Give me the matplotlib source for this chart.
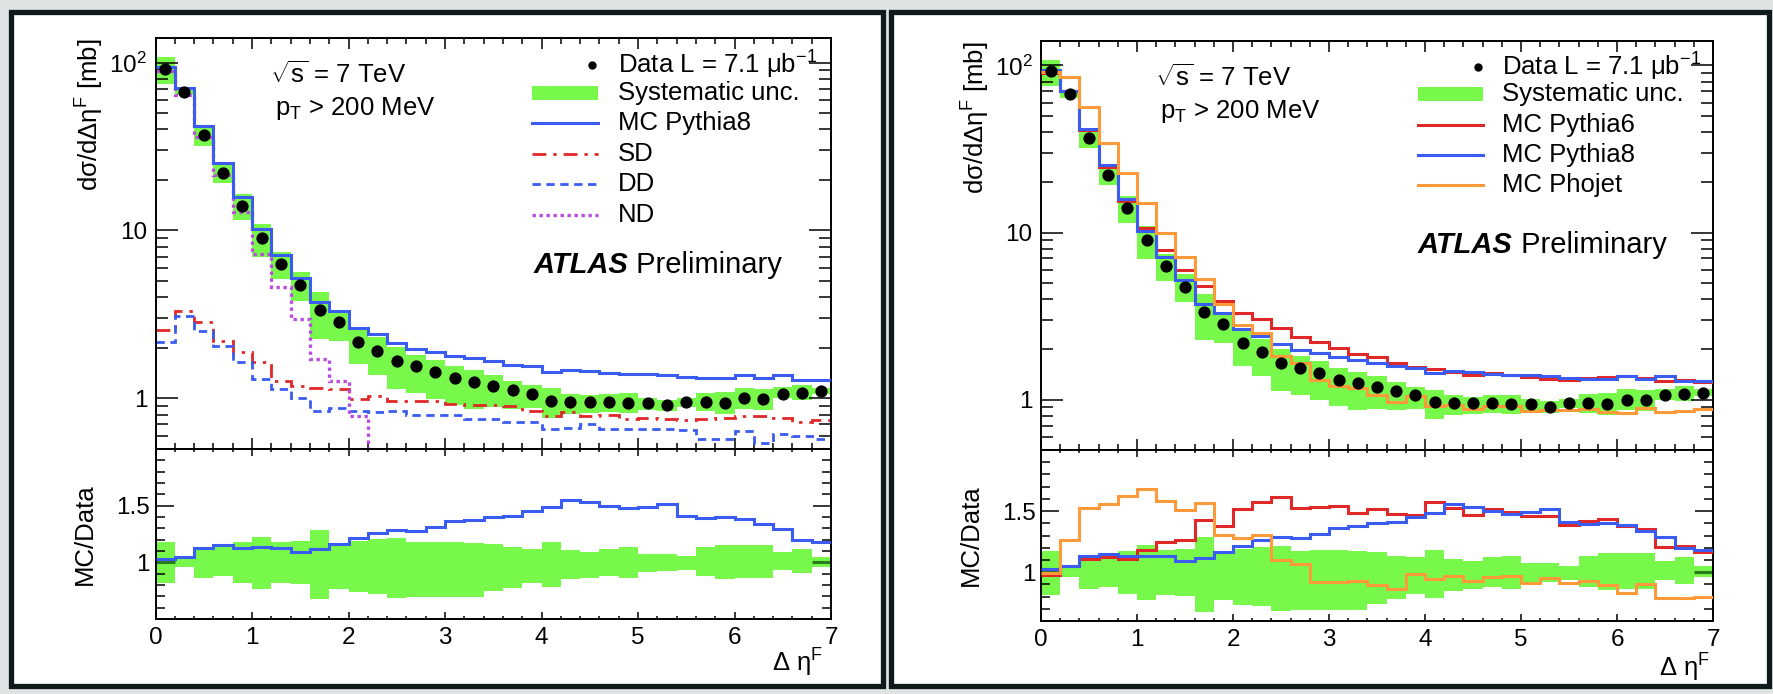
import numpy as np
import matplotlib
matplotlib.use("Agg")
import matplotlib.pyplot as plt
from matplotlib.patches import Rectangle
from matplotlib.ticker import FixedLocator, MultipleLocator, LogLocator, NullFormatter

plt.rcParams['font.family'] = ['Liberation Sans', 'DejaVu Sans']
plt.rcParams['mathtext.fontset'] = 'custom'
plt.rcParams['mathtext.rm'] = 'Liberation Sans'
plt.rcParams['mathtext.it'] = 'Liberation Sans:italic'
plt.rcParams['mathtext.bf'] = 'Liberation Sans:bold'

# --- data: 35 bins of width 0.2 in delta eta_F ---
edges = np.linspace(0, 7, 36)
data = [92, 67, 37, 22, 14, 9.0, 6.3, 4.75, 3.35, 2.85, 2.17, 1.92, 1.66, 1.55, 1.44,
        1.32, 1.26, 1.19, 1.12, 1.07, 0.97, 0.955, 0.955, 0.95, 0.945, 0.94, 0.91, 0.955,
        0.955, 0.945, 1.0, 0.99, 1.07, 1.08, 1.10]
# systematic band, relative to data (upper / lower edge)
sys_hi = [1.177, 1.054, 1.129, 1.134, 1.177, 1.22, 1.183, 1.191, 1.286, 1.163, 1.191, 1.206,
          1.214, 1.177, 1.18, 1.18, 1.17, 1.163, 1.134, 1.12, 1.183, 1.111, 1.091, 1.12, 1.134,
          1.071, 1.077, 1.054, 1.134, 1.157, 1.157, 1.157, 1.089, 1.12, 1.049]
sys_lo = [0.814, 0.957, 0.863, 0.877, 0.82, 0.769, 0.814, 0.806, 0.677, 0.769, 0.734, 0.72,
          0.683, 0.691, 0.69, 0.69, 0.69, 0.743, 0.777, 0.82, 0.786, 0.849, 0.863, 0.877, 0.863,
          0.911, 0.92, 0.934, 0.877, 0.857, 0.863, 0.863, 0.934, 0.906, 0.963]

pythia8 = [94.4, 70.3, 41.8, 25.3, 15.8, 10.2, 7.11, 5.18, 3.73, 3.31, 2.63, 2.42, 2.14, 1.98,
           1.89, 1.80, 1.735, 1.666, 1.58, 1.55, 1.44, 1.484, 1.465, 1.425, 1.396, 1.40, 1.378,
           1.348, 1.328, 1.323, 1.386, 1.327, 1.381, 1.296, 1.295]
pythia6 = [90.2, 70.4, 41.1, 24.8, 15.5, 10.6, 7.86, 6.01, 4.79, 3.92, 3.30, 3.02, 2.68, 2.37,
           2.21, 2.04, 1.87, 1.81, 1.65, 1.57, 1.53, 1.46, 1.40, 1.44, 1.41, 1.37, 1.33, 1.32,
           1.355, 1.36, 1.38, 1.34, 1.29, 1.31, 1.28]
phojet = [91.1, 84.8, 56.5, 34.2, 22.7, 15.1, 9.95, 7.15, 5.25, 3.72, 2.78, 2.51, 1.83, 1.65,
          1.32, 1.21, 1.17, 1.065, 0.963, 1.056, 0.913, 0.924, 0.885, 0.912, 0.919, 0.859, 0.864,
          0.868, 0.885, 0.846, 0.828, 0.891, 0.843, 0.851, 0.878]

# Pythia8 process components
sd = [2.56, 3.3, 2.85, 2.2, 1.88, 1.64, 1.27, 1.19, 1.15, 1.14, 0.99, 1.03, 0.97, 0.96, 0.96,
      0.925, 0.92, 0.91, 0.9, 0.845, 0.79, 0.83, 0.79, 0.8, 0.75, 0.76, 0.75, 0.745, 0.755,
      0.76, 0.79, 0.79, 0.77, 0.72, 0.745]
dd = [2.16, 3.1, 2.53, 2.06, 1.64, 1.30, 1.14, 1.01, 0.84, 0.875, 0.845, 0.83, 0.845, 0.80,
      0.80, 0.80, 0.75, 0.75, 0.72, 0.72, 0.66, 0.665, 0.70, 0.655, 0.655, 0.655, 0.655, 0.645,
      0.575, 0.575, 0.64, 0.545, 0.61, 0.595, 0.57]
nd = [89, 64, 36, 21.5, 12.8, 7.2, 4.6, 2.97, 1.72, 1.27, 0.79, 0.3]

data = np.array(data)
sys_hi = np.array(sys_hi)
sys_lo = np.array(sys_lo)
centers = 0.5 * (edges[:-1] + edges[1:])

GREEN = '#78f84a'
BLUE = '#3a5cf0'
RED = '#e02828'
ORANGE = '#ff9a3a'
VIOLET = '#b94be0'

W, H = 1773, 694
fig = plt.figure(figsize=(W / 100, H / 100), dpi=100, facecolor='#dfe3e3')

# outer boxes around the two plots
for x0, x1 in [(10.5, 882.5), (890.5, 1768.5)]:
    fig.add_artist(Rectangle((x0 / W, 1 - 686 / H), (x1 - x0) / W, (686 - 11.5) / H,
                             transform=fig.transFigure, facecolor='white',
                             edgecolor='#0f1b1b', lw=3.8, zorder=-1))


def px_axes(left, right, top, bottom):
    return fig.add_axes([left / W, 1 - bottom / H, (right - left) / W, (bottom - top) / H])


def style(ax, xl, yl):
    ax.tick_params(which='both', direction='in', top=True, right=True, width=1.1,
                   labelsize=17.5)
    ax.tick_params(which='major', axis='x', length=xl[0])
    ax.tick_params(which='minor', axis='x', length=xl[1])
    ax.tick_params(which='major', axis='y', length=yl[0])
    ax.tick_params(which='minor', axis='y', length=yl[1])
    ax.xaxis.set_major_locator(MultipleLocator(1))
    ax.xaxis.set_minor_locator(MultipleLocator(0.2))
    for s in ax.spines.values():
        s.set_linewidth(1.4)
    ax.set_xlim(0, 7)


def main_panel(ax):
    ax.set_yscale('log')
    ax.set_ylim(0.5, 140)
    style(ax, (8, 4), (16, 8.5))
    ax.yaxis.set_major_locator(FixedLocator([1, 10, 100]))
    ax.yaxis.set_major_formatter(plt.FixedFormatter(['1', '10', '$10^{2}$']))
    ax.yaxis.set_minor_locator(LogLocator(base=10, subs=np.arange(2, 10)))
    ax.yaxis.set_minor_formatter(NullFormatter())
    ax.tick_params(axis='x', labelbottom=False)
    ax.tick_params(axis='y', pad=6)
    ax.bar(centers, data * (sys_hi - sys_lo), bottom=data * sys_lo, width=0.2,
           color=GREEN, lw=0, zorder=1)
    ax.text(-0.097, 1.0, r'dσ/dΔη$^{\mathrm{F}}$ [mb]', transform=ax.transAxes, rotation=90,
            ha='center', va='top', fontsize=18.5)
    ax.text(0.17, 0.91, r'$\sqrt{\mathrm{s}}$ = 7 TeV', transform=ax.transAxes,
            va='center', fontsize=18.5)
    ax.text(0.177, 0.828, r'p$_{\mathrm{T}}$ > 200 MeV', transform=ax.transAxes,
            va='center', fontsize=18.5)


def ratio_panel(ax, ylo):
    ax.set_ylim(ylo, 2.0)
    style(ax, (5, 2.5), (13, 6.5))
    ax.yaxis.set_major_locator(FixedLocator([1, 1.5]))
    ax.yaxis.set_major_formatter(plt.FixedFormatter(['1', '1.5']))
    ax.yaxis.set_minor_locator(MultipleLocator(0.1))
    ax.tick_params(axis='y', pad=4)
    ax.tick_params(axis='x', pad=6)
    ax.bar(centers, sys_hi - sys_lo, bottom=sys_lo, width=0.2, color=GREEN, lw=0, zorder=1)
    ax.hlines([1, 1], [0, 6.8], [0.2, 7.0], color='#2a7a22', lw=2.2, zorder=2)
    ax.text(-0.105, 0.5, 'MC/Data', transform=ax.transAxes, rotation=90,
            ha='center', va='center', fontsize=18.5)


def legend(ax, rows, x0, x1, xm, xt, ys):
    for (kind, label, kw), y in zip(rows, ys):
        if kind == 'data':
            ax.plot([xm], [y], 'o', color='black', ms=5, transform=ax.transAxes, clip_on=False)
        elif kind == 'band':
            ax.add_patch(Rectangle((x0, y - 0.017), x1 - x0, 0.034, transform=ax.transAxes,
                                   facecolor=GREEN, lw=0))
        else:
            ax.plot([x0, x1], [y, y], transform=ax.transAxes, **kw)
        ax.text(xt, y, label, transform=ax.transAxes, va='center', fontsize=18.5)


def atlas(ax, x, y):
    t = ax.text(x, y, 'ATLAS', transform=ax.transAxes, va='center', fontsize=21,
                fontweight='bold', fontstyle='italic')
    ax.annotate(' Preliminary', xycoords=t, xy=(1, 0.5), va='center', fontsize=21)


# ---------- left: Pythia8 with SD / DD / ND components ----------
axL = px_axes(155.5, 831, 38, 449)
rL = px_axes(155.5, 831, 449, 619)
main_panel(axL)
ratio_panel(rL, 0.5)

sd_style = dict(color=RED, lw=2.0, ls=(0, (5, 2.5, 1.2, 2.5)))
dd_style = dict(color=BLUE, lw=2.0, ls=(0, (3, 2)))
nd_style = dict(color=VIOLET, lw=2.4, ls=(0, (1, 1.1)))
p8_style = dict(color=BLUE, lw=2.2)

axL.stairs(sd, edges, baseline=None, zorder=2, **sd_style)
axL.stairs(dd, edges, baseline=None, zorder=2, **dd_style)
axL.stairs(nd, edges[:len(nd) + 1], baseline=None, zorder=2, **nd_style)
axL.stairs(pythia8, edges, baseline=None, zorder=3, **p8_style)
axL.plot(centers, data, 'o', color='black', ms=7.8, zorder=5)
rL.stairs(np.array(pythia8) / data, edges, baseline=None, zorder=3, **p8_style)

legend(axL, [('data', 'Data L = 7.1 μb$^{-1}$', None),
             ('band', 'Systematic unc.', None),
             ('line', 'MC Pythia8', p8_style),
             ('line', 'SD', sd_style),
             ('line', 'DD', dd_style),
             ('line', 'ND', nd_style)],
       0.557, 0.655, 0.646, 0.685, [0.934, 0.866, 0.793, 0.718, 0.645, 0.569])
atlas(axL, 0.559, 0.448)
rL.text(0.988, -0.26, r'Δ η$^{\mathrm{F}}$', transform=rL.transAxes, ha='right',
        va='center', fontsize=18.5)

# ---------- right: generator comparison ----------
axR = px_axes(1041, 1713, 41, 450)
rR = px_axes(1041, 1713, 450, 621)
main_panel(axR)
ratio_panel(rR, 0.6)

p6_style = dict(color=RED, lw=2.2)
pj_style = dict(color=ORANGE, lw=2.2)
for vals, st, z in [(pythia6, p6_style, 3), (pythia8, p8_style, 3), (phojet, pj_style, 4)]:
    axR.stairs(vals, edges, baseline=None, zorder=z, **st)
    rR.stairs(np.array(vals) / data, edges, baseline=None, zorder=z, **st)
axR.plot(centers, data, 'o', color='black', ms=7.8, zorder=5)

legend(axR, [('data', 'Data L = 7.1 μb$^{-1}$', None),
             ('band', 'Systematic unc.', None),
             ('line', 'MC Pythia6', p6_style),
             ('line', 'MC Pythia8', p8_style),
             ('line', 'MC Phojet', pj_style)],
       0.561, 0.658, 0.650, 0.686, [0.936, 0.870, 0.795, 0.721, 0.648])
atlas(axR, 0.561, 0.501)
rR.text(0.9955, -0.275, r'Δ η$^{\mathrm{F}}$', transform=rR.transAxes, ha='right',
        va='center', fontsize=18.5)

fig.savefig('out.png', dpi=100, facecolor=fig.get_facecolor())
